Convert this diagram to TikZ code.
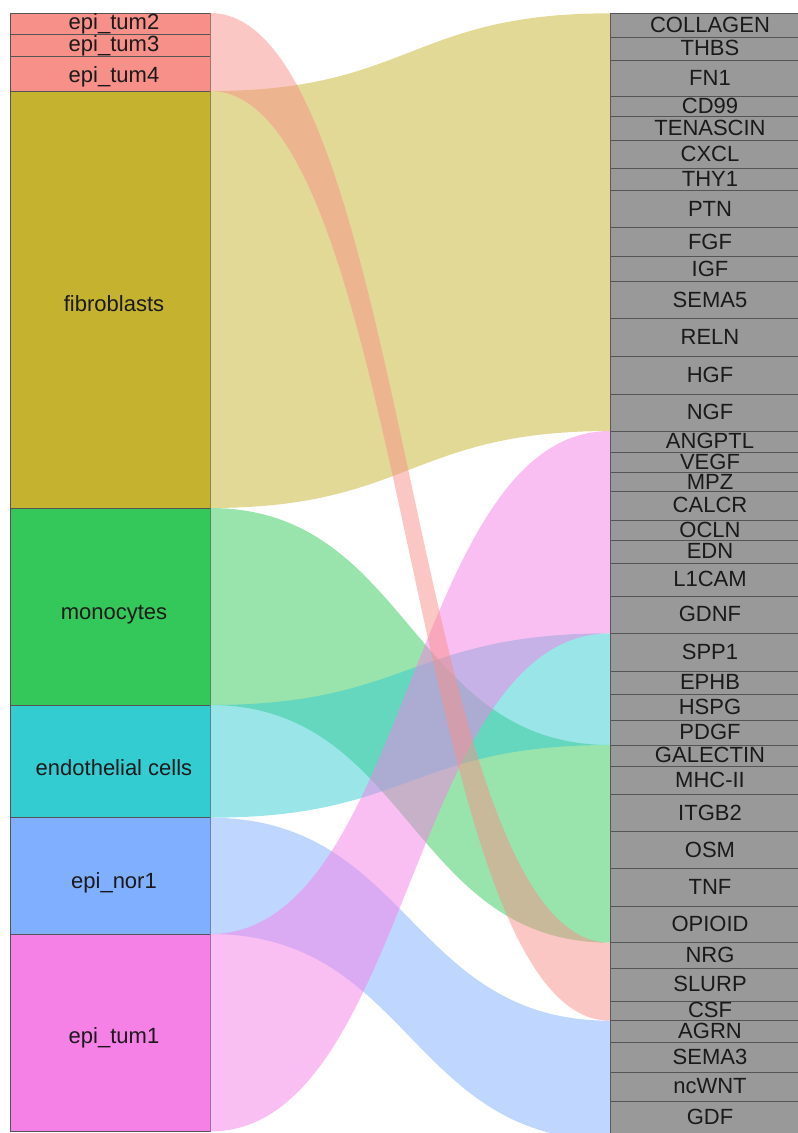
\documentclass[tikz,border=0pt]{standalone}
\usepackage{fontspec}
\setmainfont{Liberation Sans}
\definecolor{csal}{HTML}{F8908A}
\definecolor{cfib}{HTML}{C5B330}
\definecolor{cmono}{HTML}{34C75A}
\definecolor{cendo}{HTML}{33CCD1}
\definecolor{cnor}{HTML}{80AFFF}
\definecolor{ctum}{HTML}{F580E6}
\definecolor{cgray}{HTML}{999999}
\definecolor{cline}{HTML}{555555}
\definecolor{ctext}{HTML}{1A1A1A}
\newcommand\ribbon[5]{%
  \fill[#1, fill opacity=0.5] (#2) .. controls +(200,0) and +(-200,0) .. (#4) -- (#5) .. controls +(-200,0) and +(200,0) .. (#3) -- cycle;}
\begin{document}
\begin{tikzpicture}[x=1pt,y=-1pt,
  lbox/.style={draw=cline, line width=0.6pt, inner sep=0pt, outer sep=0pt, minimum width=200pt},
  rbox/.style={draw=cline, line width=0.6pt, fill=cgray, inner sep=0pt, outer sep=0pt, minimum width=200pt},
  lab/.style={anchor=base, inner sep=0pt, text=ctext, font=\fontsize{22}{26}\selectfont}]
\clip (0,0) rectangle (798,1133);
% left boxes
\foreach \nm/\ya/\yb/\bl/\col/\lab in {
  t2/13/34.5/29.3/csal/epi\_tum2,
  t3/34.5/56.7/51.7/csal/epi\_tum3,
  t4/56.7/91/82.7/csal/epi\_tum4,
  fib/91/508/311.5/cfib/fibroblasts,
  mono/508/705/619.3/cmono/monocytes,
  endo/705/817.7/775.3/cendo/endothelial cells,
  nor/817.7/934/888.3/cnor/epi\_nor1,
  tum/934/1131.5/1043.3/ctum/epi\_tum1}{
  \pgfmathsetmacro\hh{\yb-\ya}
  \pgfmathsetmacro\cy{(\ya+\yb)/2}
  \node[lbox, fill=\col, minimum height=\hh pt] (\nm) at (110,\cy) {};
  \node[lab] (\nm lab) at (114,\bl) {\lab};
}
% right boxes
\foreach \nm/\ya/\yb/\lab in {
  COLLAGEN/13.3/37.7/COLLAGEN, THBS/37.7/60/THBS, FN1/60/96.7/FN1,
  CD99/96.7/116.7/CD99, TENASCIN/116.7/140/TENASCIN, CXCL/140/168.3/CXCL,
  THY1/168.3/190.7/THY1, PTN/190.7/227.3/PTN, FGF/227.3/256.7/FGF,
  IGF/256.7/281.7/IGF, SEMA5/281.7/318.3/SEMA5, RELN/318.3/356.7/RELN,
  HGF/356.7/394/HGF, NGF/394/431/NGF, ANGPTL/431/452.3/ANGPTL,
  VEGF/452.3/472.7/VEGF, MPZ/472.7/491.7/MPZ, CALCR/491.7/520/CALCR,
  OCLN/520/540/OCLN, EDN/540/563.3/EDN, L1CAM/563.3/596/L1CAM,
  GDNF/596/633.3/GDNF, SPP1/633.3/671/SPP1, EPHB/671/694.3/EPHB,
  HSPG/694.3/720/HSPG, PDGF/720/745/PDGF, GALECTIN/745/766.7/GALECTIN,
  MHCII/766.7/794.3/MHC-II, ITGB2/794.3/831.7/ITGB2, OSM/831.7/868.3/OSM,
  TNF/868.3/906/TNF, OPIOID/906/942.7/OPIOID, NRG/942.7/968.3/NRG,
  SLURP/968.3/1001/SLURP, CSF/1001/1020.7/CSF, AGRN/1020.7/1042.7/AGRN,
  SEMA3/1042.7/1072.3/SEMA3, ncWNT/1072.3/1101/ncWNT, GDF/1101/1140/GDF}{
  \pgfmathsetmacro\hh{\yb-\ya}
  \pgfmathsetmacro\cy{(\ya+\yb)/2}
  \pgfmathsetmacro\bl{\cy+7}
  \node[rbox, minimum height=\hh pt] (\nm) at (710,\cy) {};
}
% ribbons
\ribbon{cfib}{fib.north east}{fib.south east}{COLLAGEN.north west}{NGF.south west}
\ribbon{cmono}{mono.north east}{mono.south east}{GALECTIN.north west}{OPIOID.south west}
\ribbon{cendo}{endo.north east}{endo.south east}{SPP1.north west}{PDGF.south west}
\ribbon{cnor}{nor.north east}{nor.south east}{AGRN.north west}{GDF.south west}
\ribbon{ctum}{tum.north east}{tum.south east}{ANGPTL.north west}{GDNF.south west}
\ribbon{csal}{t2.north east}{t4.south east}{NRG.north west}{CSF.south west}
% right labels
\foreach \nm/\ya/\yb/\lab in {
  COLLAGEN/13.3/37.7/COLLAGEN, THBS/37.7/60/THBS, FN1/60/96.7/FN1,
  CD99/96.7/116.7/CD99, TENASCIN/116.7/140/TENASCIN, CXCL/140/168.3/CXCL,
  THY1/168.3/190.7/THY1, PTN/190.7/227.3/PTN, FGF/227.3/256.7/FGF,
  IGF/256.7/281.7/IGF, SEMA5/281.7/318.3/SEMA5, RELN/318.3/356.7/RELN,
  HGF/356.7/394/HGF, NGF/394/431/NGF, ANGPTL/431/452.3/ANGPTL,
  VEGF/452.3/472.7/VEGF, MPZ/472.7/491.7/MPZ, CALCR/491.7/520/CALCR,
  OCLN/520/540/OCLN, EDN/540/563.3/EDN, L1CAM/563.3/596/L1CAM,
  GDNF/596/633.3/GDNF, SPP1/633.3/671/SPP1, EPHB/671/694.3/EPHB,
  HSPG/694.3/720/HSPG, PDGF/720/745/PDGF, GALECTIN/745/766.7/GALECTIN,
  MHCII/766.7/794.3/MHC-II, ITGB2/794.3/831.7/ITGB2, OSM/831.7/868.3/OSM,
  TNF/868.3/906/TNF, OPIOID/906/942.7/OPIOID, NRG/942.7/968.3/NRG,
  SLURP/968.3/1001/SLURP, CSF/1001/1020.7/CSF, AGRN/1020.7/1042.7/AGRN,
  SEMA3/1042.7/1072.3/SEMA3, ncWNT/1072.3/1101/ncWNT, GDF/1101/1133/GDF}{
  \pgfmathsetmacro\bl{(\ya+\yb)/2+7}
  \node[lab] (\nm lab) at (710,\bl) {\lab};
}
\end{tikzpicture}
\end{document}
